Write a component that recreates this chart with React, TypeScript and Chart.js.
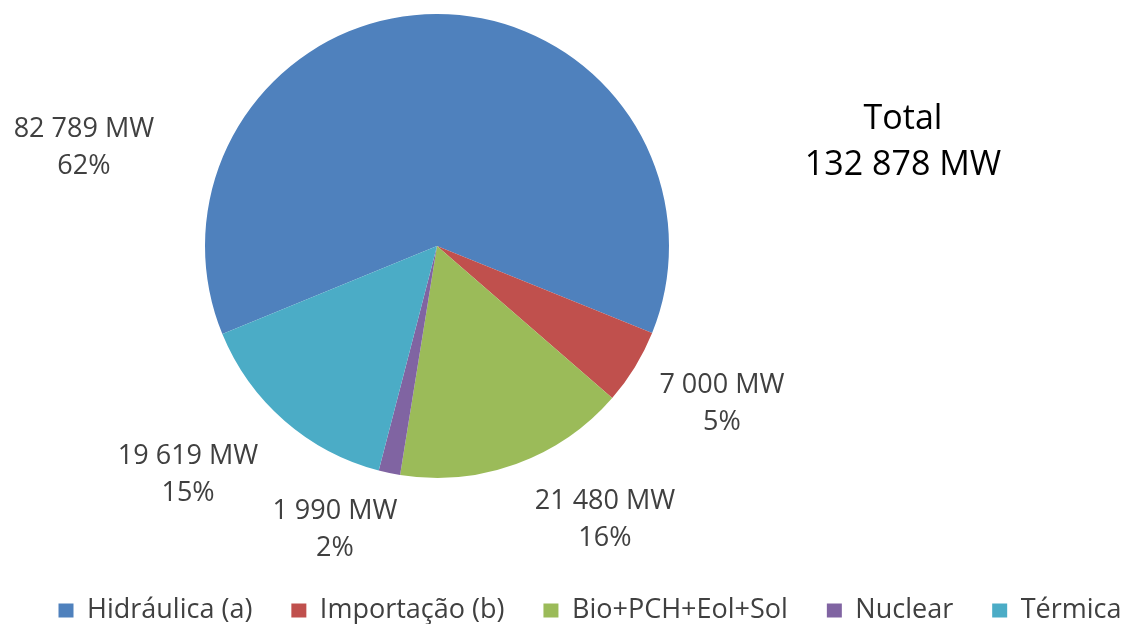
import React, { useEffect, useRef } from 'react';
import { Chart, registerables, layouts } from 'chart.js';

Chart.register(...registerables);

// ---- data ----
const categories = ['Hidráulica (a)', 'Importação (b)', 'Bio+PCH+Eol+Sol', 'Nuclear', 'Térmica'];
const valuesMW = [82789, 7000, 21480, 1990, 19619];
const percentLabels = [62, 5, 16, 2, 15];
const totalLabel = 'Total';
const totalMW = 132878;

// ---- style / layout ----
const colors = ['#4F81BD', '#C0504D', '#9BBB59', '#8064A2', '#4BACC6'];
const FONT = "'Open Sans', 'Noto Sans', sans-serif";
const CANVAS_W = 1180;
const CANVAS_H = 700;
const CANVAS_TOP = -66;
const SIDE_W = 306;
const PIE_R = 232;
const ROTATION = -112.3;
const LABEL_SIZE = 27;
const LABEL_GAP = 37;
// label block centres, in units of the pie radius, relative to the pie centre
const LABEL_OFFSETS: [number, number][] = [
  [-1.522, -0.431],
  [1.228, 0.672],
  [0.724, 1.172],
  [-0.44, 1.216],
  [-1.073, 0.978],
];
const TOTAL_DX = 29;
const TOTAL_DY1 = -129;
const TOTAL_DY2 = -83;
const TOTAL_SIZE = 34;

const fmtMW = (v: number) => String(v).replace(/\B(?=(\d{3})+(?!\d))/g, ' ') + ' MW';

const sideBoxPlugin = {
  id: 'sideBox',
  beforeInit(chart: any) {
    const box: any = {
      position: 'right',
      weight: 0,
      fullSize: false,
      options: { display: true },
      left: 0,
      top: 0,
      right: 0,
      bottom: 0,
      width: 0,
      height: 0,
      isHorizontal() {
        return false;
      },
      update(_maxW: number, maxH: number) {
        this.width = SIDE_W;
        this.height = maxH;
      },
      draw() {},
    };
    layouts.addBox(chart, box);
    chart.$sideBox = box;
  },
};

const labelsPlugin = {
  id: 'sliceLabels',
  afterDatasetsDraw(chart: any) {
    const ctx = chart.ctx;
    const meta = chart.getDatasetMeta(0);
    ctx.save();
    ctx.font = `${LABEL_SIZE}px ${FONT}`;
    ctx.fillStyle = '#404040';
    ctx.textAlign = 'center';
    ctx.textBaseline = 'alphabetic';
    meta.data.forEach((arc: any, i: number) => {
      const { x, y, outerRadius } = arc.getProps(['x', 'y', 'outerRadius'], true);
      const [ox, oy] = LABEL_OFFSETS[i];
      const cx = x + ox * outerRadius;
      const cy = y + oy * outerRadius;
      const shift = LABEL_SIZE * 0.357;
      ctx.fillText(fmtMW(valuesMW[i]), cx, cy - LABEL_GAP / 2 + shift);
      ctx.fillText(`${percentLabels[i]}%`, cx, cy + LABEL_GAP / 2 + shift);
    });
    ctx.restore();
  },
  afterDraw(chart: any) {
    const ctx = chart.ctx;
    const ca = chart.chartArea;
    const cy = (ca.top + ca.bottom) / 2;
    const box = chart.$sideBox;
    const x = box.left + TOTAL_DX;
    ctx.save();
    ctx.font = `${TOTAL_SIZE}px ${FONT}`;
    ctx.fillStyle = '#000000';
    ctx.textAlign = 'center';
    ctx.textBaseline = 'alphabetic';
    const shift = TOTAL_SIZE * 0.357;
    ctx.fillText(totalLabel, x, cy + TOTAL_DY1 + shift);
    ctx.fillText(fmtMW(totalMW), x, cy + TOTAL_DY2 + shift);
    ctx.restore();
  },
};

export default function App() {
  const ref = useRef<HTMLCanvasElement | null>(null);
  useEffect(() => {
    if (!ref.current) return;
    const chart = new Chart(ref.current, {
      type: 'pie',
      data: {
        labels: categories,
        datasets: [
          {
            data: valuesMW,
            backgroundColor: colors,
            borderWidth: 0,
            radius: PIE_R,
          } as any,
        ],
      },
      options: {
        animation: false,
        responsive: false,
        devicePixelRatio: 1,
        rotation: ROTATION,
        layout: { padding: 0 },
        plugins: {
          legend: {
            position: 'bottom',
            labels: {
              font: { family: FONT, size: 27 },
              color: '#404040',
              boxWidth: 15,
              boxHeight: 14,
              padding: 39,
            },
          },
          tooltip: { enabled: false },
        },
      } as any,
      plugins: [sideBoxPlugin, labelsPlugin],
    });
    return () => chart.destroy();
  }, []);

  return (
    <div
      style={{
        position: 'absolute',
        left: 0,
        top: 0,
        width: 1129,
        height: 624,
        overflow: 'hidden',
        background: '#ffffff',
      }}
    >
      <canvas
        ref={ref}
        width={CANVAS_W}
        height={CANVAS_H}
        style={{ position: 'absolute', left: 0, top: CANVAS_TOP, width: CANVAS_W, height: CANVAS_H }}
      />
    </div>
  );
}
